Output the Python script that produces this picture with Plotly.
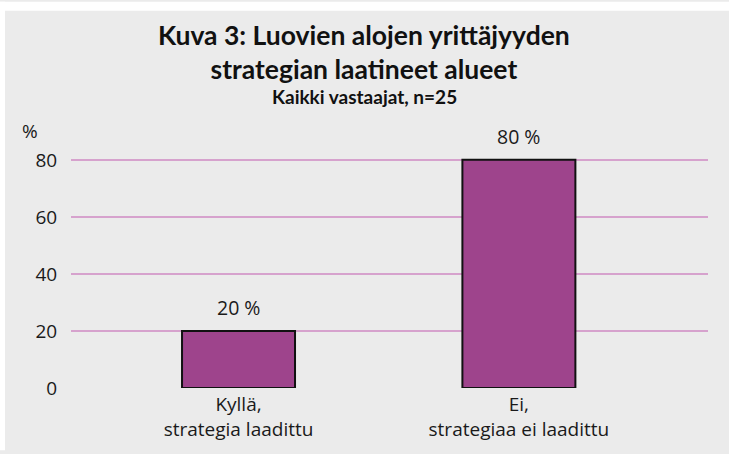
import plotly.graph_objects as go

categories = ["Kyllä,<br>strategia laadittu", "Ei,<br>strategiaa ei laadittu"]
values = [20, 80]
labels = ["20 %", "80 %"]
y_ticks = [0, 20, 40, 60, 80]

W, H = 729, 454
ml, mr, mt, mb = 71, 21, 150, 63
PW, PH = W - ml - mr, H - mt - mb
BODY = "Open Sans, sans-serif"
TITLE = "Lato, sans-serif"


def px(x):
    return (x - ml) / PW


def py(y):
    return 1 - (y - mt) / PH


fig = go.Figure(go.Bar(
    x=categories, y=values,
    marker=dict(color="#9e448c", line=dict(color="#111111", width=2)),
    width=0.403, cliponaxis=False,
))

for c, v, t in zip(categories, values, labels):
    fig.add_annotation(x=c, y=v, text=t, showarrow=False, yshift=23,
                       font=dict(size=19.5, color="#1a1a1a", family=BODY),
                       xanchor="center", yanchor="middle")

fig.update_layout(
    width=W, height=H,
    margin=dict(l=ml, r=mr, t=mt, b=mb),
    paper_bgcolor="#ebebeb", plot_bgcolor="#ebebeb",
    font=dict(family=BODY, color="#1a1a1a"),
    showlegend=False,
    xaxis=dict(range=[-0.5975, 1.6745], showgrid=False, zeroline=False,
               tickfont=dict(size=19), ticks="", showline=False,
               ticklabelstandoff=3),
    yaxis=dict(range=[0, 83.46], tickvals=y_ticks, showgrid=True,
               gridcolor="#d6a2cd", gridwidth=2, zeroline=False,
               tickfont=dict(size=19), ticks="outside", ticklen=9,
               tickcolor="rgba(0,0,0,0)", showline=False),
)

# white outer strips (top and left)
fig.add_shape(type="rect", xref="paper", yref="paper",
              x0=px(0), x1=px(W), y0=py(9), y1=py(0),
              fillcolor="white", line_width=0, layer="below")
fig.add_shape(type="rect", xref="paper", yref="paper",
              x0=px(0), x1=px(5), y0=py(H), y1=py(0),
              fillcolor="white", line_width=0, layer="below")

title_lines = [("<b>Kuva 3: Luovien alojen yrittäjyyden<br>strategian laatineet alueet</b>", 51, 26.5),
               ("<b>Kaikki vastaajat, n=25</b>", 96, 19)]
for txt, yy, sz in title_lines:
    fig.add_annotation(text=txt, xref="paper", yref="paper", x=px(364), y=py(yy),
                       showarrow=False, xanchor="center", yanchor="middle",
                       font=dict(size=sz, color="#111111", family=TITLE))

fig.add_annotation(text="%", xref="paper", yref="paper", x=px(30), y=py(131),
                   showarrow=False, font=dict(size=19), xanchor="center", yanchor="middle")

fig.write_html("out.html", config={"displayModeBar": False},
               post_script="document.body.style.margin='0';document.body.style.overflow='hidden';")
